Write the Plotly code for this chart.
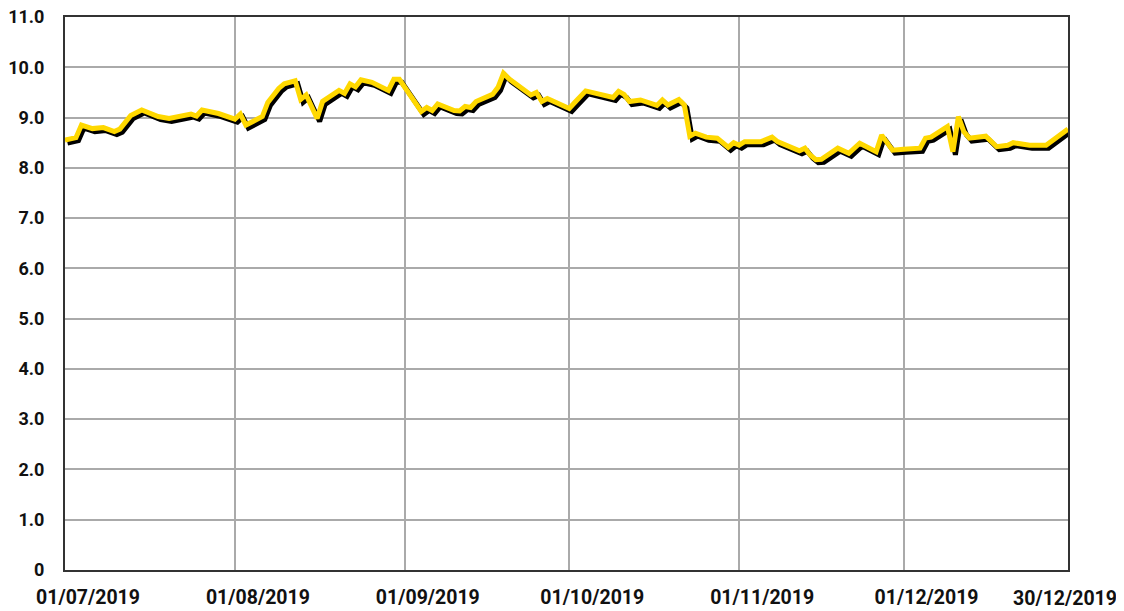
import plotly.graph_objects as go
import pandas as pd

dates = [
    "2019-07-01", "2019-07-03", "2019-07-04", "2019-07-06", "2019-07-08", "2019-07-10",
    "2019-07-11", "2019-07-13", "2019-07-15", "2019-07-18", "2019-07-20", "2019-07-24",
    "2019-07-25", "2019-07-26", "2019-07-29", "2019-08-01", "2019-08-02", "2019-08-03",
    "2019-08-06", "2019-08-07", "2019-08-09", "2019-08-10", "2019-08-12", "2019-08-13",
    "2019-08-14", "2019-08-16", "2019-08-17", "2019-08-20", "2019-08-21", "2019-08-22",
    "2019-08-23", "2019-08-24", "2019-08-26", "2019-08-28", "2019-08-29", "2019-08-30",
    "2019-08-31", "2019-09-04", "2019-09-05", "2019-09-06", "2019-09-07", "2019-09-10",
    "2019-09-11", "2019-09-12", "2019-09-13", "2019-09-14", "2019-09-17", "2019-09-18",
    "2019-09-19", "2019-09-20", "2019-09-22", "2019-09-24", "2019-09-25", "2019-09-26",
    "2019-09-27", "2019-09-29", "2019-10-01", "2019-10-02", "2019-10-04", "2019-10-09",
    "2019-10-10", "2019-10-11", "2019-10-12", "2019-10-14", "2019-10-17", "2019-10-18",
    "2019-10-19", "2019-10-21", "2019-10-22", "2019-10-23", "2019-10-24", "2019-10-26",
    "2019-10-28", "2019-10-30", "2019-10-31", "2019-11-01", "2019-11-02", "2019-11-05",
    "2019-11-07", "2019-11-08", "2019-11-12", "2019-11-13", "2019-11-14", "2019-11-15",
    "2019-11-16", "2019-11-19", "2019-11-21", "2019-11-23", "2019-11-26", "2019-11-27",
    "2019-11-29", "2019-12-01", "2019-12-04", "2019-12-05", "2019-12-06", "2019-12-09",
    "2019-12-10", "2019-12-11", "2019-12-12", "2019-12-13", "2019-12-16", "2019-12-18",
    "2019-12-20", "2019-12-21", "2019-12-24", "2019-12-27", "2019-12-31",
]
values = [
    8.55, 8.60, 8.85, 8.78, 8.80, 8.72,
    8.77, 9.04, 9.15, 9.02, 8.98, 9.07,
    9.03, 9.15, 9.08, 8.97, 9.07, 8.85,
    9.02, 9.30, 9.58, 9.67, 9.73, 9.36,
    9.45, 8.98, 9.32, 9.54, 9.48, 9.67,
    9.61, 9.75, 9.70, 9.60, 9.54, 9.76,
    9.76, 9.12, 9.20, 9.14, 9.27, 9.14,
    9.13, 9.22, 9.20, 9.32, 9.46, 9.60,
    9.88, 9.77, 9.61, 9.45, 9.50, 9.32,
    9.38, 9.27, 9.18, 9.30, 9.53, 9.40,
    9.52, 9.46, 9.32, 9.35, 9.24, 9.35,
    9.25, 9.36, 9.25, 8.63, 8.69, 8.61,
    8.59, 8.41, 8.50, 8.45, 8.52, 8.52,
    8.61, 8.52, 8.34, 8.39, 8.25, 8.16,
    8.17, 8.39, 8.29, 8.49, 8.32, 8.65,
    8.35, 8.37, 8.39, 8.59, 8.61, 8.82,
    8.32, 9.02, 8.72, 8.59, 8.63, 8.42,
    8.45, 8.50, 8.45, 8.45, 8.77,
]

month_tick_vals = ["2019-07-01", "2019-08-01", "2019-09-01", "2019-10-01",
                   "2019-11-01", "2019-12-01"]
month_tick_text = ["01/07/2019", "01/08/2019", "01/09/2019", "01/10/2019",
                   "01/11/2019", "01/12/2019"]
end_tick_vals = ["2019-12-31"]
end_tick_text = ["30/12/2019"]
x_range = ["2019-07-01", "2019-12-31"]
y_tick_vals = list(range(0, 12))
y_tick_text = ["0"] + [f"{v:.1f}" for v in range(1, 12)]

# drop-shadow styling offsets
shadow_dx = pd.Timedelta(hours=11)
shadow_dy = 0.06

x = pd.to_datetime(dates)
shadow_x = x + shadow_dx
shadow_y = [v - shadow_dy for v in values]

fig = go.Figure()
fig.add_trace(go.Scatter(x=shadow_x, y=shadow_y, mode="lines",
                         line=dict(color="#000000", width=5),
                         hoverinfo="skip", showlegend=False))
fig.add_trace(go.Scatter(x=x, y=values, mode="lines",
                         line=dict(color="#FFD800", width=5),
                         showlegend=False))
# carrier for the end-of-range tick label axis
fig.add_trace(go.Scatter(x=[x[-1]], y=[values[-1]], xaxis="x2", mode="lines",
                         line=dict(width=0), hoverinfo="skip", showlegend=False))

xfont = dict(family="Roboto", size=19.5, color="#111111", weight="bold")
yfont = dict(family="Roboto", size=18, color="#111111", weight="bold")

# page body has an 8px default margin, so the figure is sized to fit the window
fig.update_layout(
    width=1116, height=603,
    margin=dict(l=57, r=56, t=9, b=41),
    paper_bgcolor="white", plot_bgcolor="white",
    font=yfont,
    xaxis=dict(
        type="date",
        range=x_range,
        tickvals=month_tick_vals, ticktext=month_tick_text,
        showgrid=True, gridcolor="#AAAAAA", gridwidth=1.5,
        showline=True, linecolor="#333333", linewidth=2, mirror=True,
        ticks="", ticklabelstandoff=9, ticklabelshift=23, tickfont=xfont,
        ticklabeloverflow="allow",
        zeroline=False, automargin=False,
    ),
    xaxis2=dict(
        type="date", overlaying="x", anchor="y", side="bottom",
        range=x_range,
        tickvals=end_tick_vals, ticktext=end_tick_text,
        showgrid=False, showline=False, zeroline=False,
        ticks="", ticklabelstandoff=14, ticklabelshift=-3, tickfont=xfont,
        ticklabeloverflow="allow", automargin=False,
    ),
    yaxis=dict(
        range=[0, 11],
        tickvals=y_tick_vals, ticktext=y_tick_text,
        showgrid=True, gridcolor="#AAAAAA", gridwidth=1.5,
        showline=True, linecolor="#333333", linewidth=2, mirror=True,
        ticks="", ticklabelstandoff=15, tickfont=yfont,
        ticklabeloverflow="allow",
        zeroline=False, automargin=False,
    ),
)

fig.write_html("out.html")
